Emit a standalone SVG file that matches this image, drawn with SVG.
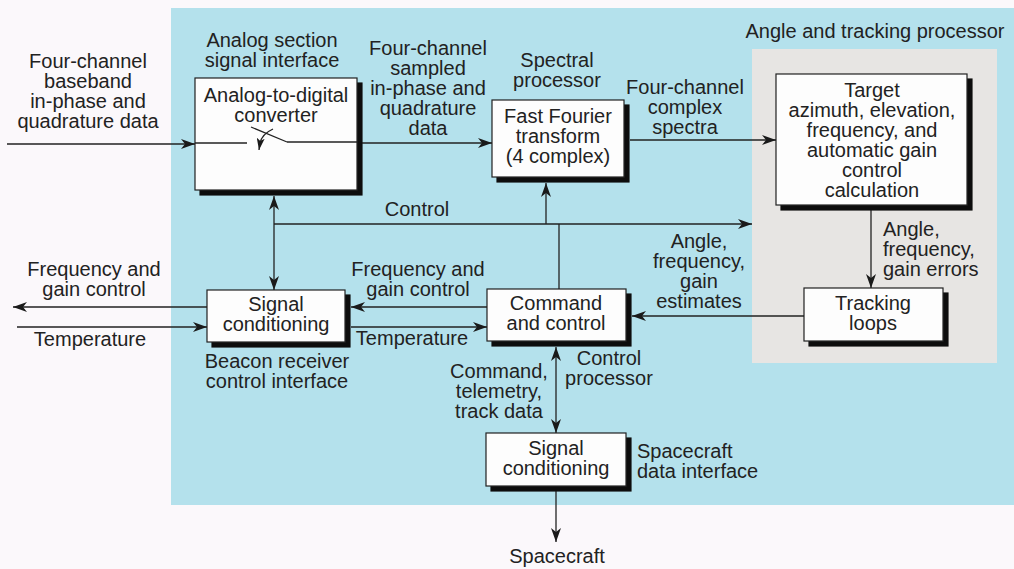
<svg xmlns="http://www.w3.org/2000/svg" width="1014" height="569" viewBox="0 0 1014 569">
  <defs>
    <marker id="ah" viewBox="0 0 14 10" refX="14" refY="5" markerWidth="14" markerHeight="10" markerUnits="userSpaceOnUse" orient="auto-start-reverse">
      <path d="M0,0 L14,5 L0,10 L4,5 z" fill="#1a1a1a"/>
    </marker>
    <marker id="ahs" viewBox="0 0 12 8" refX="12" refY="4" markerWidth="12" markerHeight="8" markerUnits="userSpaceOnUse" orient="auto">
      <path d="M0,0 L12,4 L0,8 L3,4 z" fill="#1a1a1a"/>
    </marker>
    <filter id="sh" x="-5%" y="-5%" width="115%" height="120%">
      <feOffset dx="5" dy="5" in="SourceAlpha" result="o"/>
      <feFlood flood-color="#111"/>
      <feComposite in2="o" operator="in" result="s"/>
      <feMerge><feMergeNode in="s"/><feMergeNode in="SourceGraphic"/></feMerge>
    </filter>
  </defs>
  <style>
    text { font-family: "Liberation Sans", Arial, sans-serif; font-size: 20px; fill: #222; }
    .c { text-anchor: middle; }
    .box { fill: #fdfdfd; stroke: #222; stroke-width: 1.2; filter: url(#sh); }
    .ln { fill: none; stroke: #222; stroke-width: 1.3; }
    .ar { marker-end: url(#ah); }
    .ar2 { marker-start: url(#ah); marker-end: url(#ah); }
  </style>

  <!-- backgrounds -->
  <rect x="0" y="0" width="1014" height="569" fill="#fbf8fb"/>
  <rect x="171" y="8" width="843" height="497" fill="#b4e1ec"/>
  <rect x="752" y="49" width="245" height="314" fill="#e7e5e3"/>

  <!-- connectors -->
  <g id="connectors">
    <!-- input to ADC -->
    <line class="ln ar" x1="7" y1="144" x2="195" y2="144"/>
    <!-- ADC to FFT -->
    <line class="ln ar" x1="362" y1="143" x2="492" y2="143"/>
    <!-- FFT to target -->
    <line class="ln ar" x1="630" y1="140" x2="776" y2="140"/>
    <!-- target to tracking loops -->
    <line class="ln ar" x1="871" y1="210" x2="871" y2="288"/>
    <!-- tracking loops to command -->
    <line class="ln ar" x1="804" y1="316" x2="632" y2="316"/>
    <!-- ADC <-> beacon signal conditioning -->
    <line class="ln ar2" x1="274" y1="196" x2="274" y2="290"/>
    <!-- control bus -->
    <line class="ln ar" x1="274" y1="224" x2="752" y2="224"/>
    <line class="ln" x1="559" y1="224" x2="559" y2="289"/>
    <line class="ln ar" x1="546" y1="224" x2="546" y2="183"/>
    <!-- command <-> beacon signal conditioning -->
    <line class="ln ar" x1="487" y1="307" x2="351" y2="307"/>
    <line class="ln ar" x1="351" y1="327" x2="487" y2="327"/>
    <!-- beacon signal conditioning external -->
    <line class="ln ar" x1="207" y1="307" x2="13" y2="307"/>
    <line class="ln ar" x1="17" y1="327" x2="207" y2="327"/>
    <!-- command <-> spacecraft signal conditioning -->
    <line class="ln ar2" x1="556" y1="347" x2="556" y2="433"/>
    <!-- to spacecraft -->
    <line class="ln ar" x1="556" y1="491" x2="556" y2="542"/>
  </g>

  <!-- nodes -->
  <g id="adc">
    <rect class="box" x="195" y="78" width="162" height="112"/>
    <text class="c" x="276" y="102">Analog-to-digital</text>
    <text class="c" x="276" y="122">converter</text>
    <!-- sampling switch -->
    <line class="ln" x1="195" y1="143" x2="247" y2="143"/>
    <line class="ln" x1="251" y1="127" x2="287" y2="142"/>
    <line class="ln" x1="287" y1="142" x2="357" y2="142"/>
    <path class="ln" d="M273,129 Q262,134 260,143 L259,150" marker-end="url(#ahs)"/>
  </g>
  <g id="fft">
    <rect class="box" x="492" y="100" width="132" height="77"/>
    <text class="c" x="558" y="123">Fast Fourier</text>
    <text class="c" x="558" y="143">transform</text>
    <text class="c" x="558" y="163">(4 complex)</text>
  </g>
  <g id="target">
    <rect class="box" x="776" y="74" width="191" height="131"/>
    <text class="c" x="872" y="97">Target</text>
    <text class="c" x="872" y="117">azimuth, elevation,</text>
    <text class="c" x="872" y="137">frequency, and</text>
    <text class="c" x="872" y="157">automatic gain</text>
    <text class="c" x="872" y="177">control</text>
    <text class="c" x="872" y="197">calculation</text>
  </g>
  <g id="tracking">
    <rect class="box" x="804" y="288" width="139" height="53"/>
    <text class="c" x="873" y="310">Tracking</text>
    <text class="c" x="873" y="330">loops</text>
  </g>
  <g id="command">
    <rect class="box" x="487" y="289" width="139" height="52"/>
    <text class="c" x="556" y="310">Command</text>
    <text class="c" x="556" y="330">and control</text>
  </g>
  <g id="beacon">
    <rect class="box" x="207" y="290" width="138" height="52"/>
    <text class="c" x="276" y="311">Signal</text>
    <text class="c" x="276" y="331">conditioning</text>
  </g>
  <g id="spacecraft-sc">
    <rect class="box" x="486" y="433" width="140" height="53"/>
    <text class="c" x="556" y="455">Signal</text>
    <text class="c" x="556" y="475">conditioning</text>
  </g>

  <!-- labels -->
  <g id="labels">
    <text class="c" x="88" y="68">Four-channel</text>
    <text class="c" x="88" y="88">baseband</text>
    <text class="c" x="88" y="108">in-phase and</text>
    <text class="c" x="88" y="128">quadrature data</text>

    <text class="c" x="272" y="47">Analog section</text>
    <text class="c" x="272" y="67">signal interface</text>

    <text class="c" x="428" y="55">Four-channel</text>
    <text class="c" x="428" y="75">sampled</text>
    <text class="c" x="428" y="95">in-phase and</text>
    <text class="c" x="428" y="115">quadrature</text>
    <text class="c" x="428" y="135">data</text>

    <text class="c" x="557" y="67">Spectral</text>
    <text class="c" x="557" y="87">processor</text>

    <text class="c" x="685" y="94">Four-channel</text>
    <text class="c" x="685" y="114">complex</text>
    <text class="c" x="685" y="134">spectra</text>

    <text class="c" x="875" y="38">Angle and tracking processor</text>

    <text x="883" y="236">Angle,</text>
    <text x="883" y="256">frequency,</text>
    <text x="883" y="276">gain errors</text>

    <text class="c" x="699" y="248">Angle,</text>
    <text class="c" x="699" y="268">frequency,</text>
    <text class="c" x="699" y="288">gain</text>
    <text class="c" x="699" y="308">estimates</text>

    <text class="c" x="417" y="216">Control</text>

    <text class="c" x="418" y="276">Frequency and</text>
    <text class="c" x="418" y="296">gain control</text>
    <text class="c" x="412" y="345">Temperature</text>

    <text class="c" x="94" y="276">Frequency and</text>
    <text class="c" x="94" y="296">gain control</text>
    <text class="c" x="90" y="346">Temperature</text>

    <text class="c" x="277" y="368">Beacon receiver</text>
    <text class="c" x="277" y="388">control interface</text>

    <text class="c" x="609" y="365">Control</text>
    <text class="c" x="609" y="385">processor</text>

    <text class="c" x="499" y="378">Command,</text>
    <text class="c" x="499" y="398">telemetry,</text>
    <text class="c" x="499" y="418">track data</text>

    <text x="637" y="458">Spacecraft</text>
    <text x="637" y="478">data interface</text>

    <text class="c" x="557" y="563">Spacecraft</text>
  </g>
</svg>
